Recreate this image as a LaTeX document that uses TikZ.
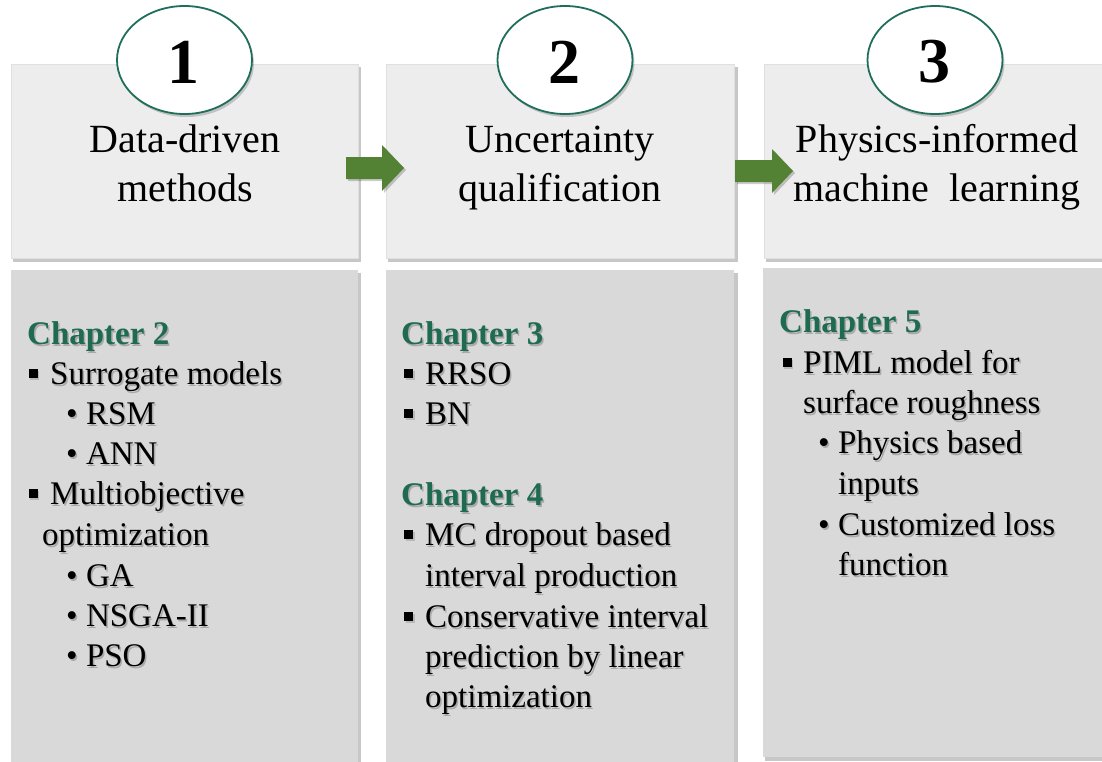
\documentclass[tikz,border=0pt]{standalone}
\usepackage{fontspec}
\setmainfont{Liberation Serif}
\usetikzlibrary{shapes.geometric}
\definecolor{topgray}{HTML}{EDEDED}
\definecolor{botgray}{HTML}{D9D9D9}
\definecolor{chapgreen}{HTML}{1E6B52}
\definecolor{ringgreen}{HTML}{1F6E5A}
\definecolor{arrowgreen}{HTML}{548235}
\tikzset{
  topbox/.style={fill=topgray, draw=black!12, line width=0.6pt, anchor=north west, inner sep=0},
  botbox/.style={fill=botgray, draw=none, anchor=north west, inner sep=0},
  boxshadow/.style={fill=black, opacity=0.22},
  ring/.style={ellipse, draw=ringgreen, line width=1.8pt, fill=white, minimum width=135pt, minimum height=108pt, inner sep=0},
  num/.style={font=\fontsize{64}{64}\selectfont\bfseries},
  title/.style={font=\fontsize{40}{48}\selectfont, anchor=base, inner sep=0},
  chap/.style={font=\fontsize{33}{40}\selectfont\bfseries, text=chapgreen, anchor=base west, inner sep=0},
  item/.style={font=\fontsize{33}{40}\selectfont, anchor=base west, inner sep=0},
  sqbullet/.style={fill=black, minimum size=9pt, inner sep=0},
  flow/.style={fill=arrowgreen},
}
% style, name, x, y, text
\newcommand{\tline}[5]{%
  \node[#1, text=black, opacity=0.22] at ({#3+1.5},{#4+2}) {#5};
  \node[#1] (#2) at (#3,#4) {#5};}
\newcommand{\sqb}[3]{%
  \node[sqbullet, fill=black!40, opacity=0.5] at ({#2+1.5},{#3-11+2}) {};
  \node[sqbullet] (#1) at (#2,{#3-11}) {};}
\begin{document}
\begin{tikzpicture}[x=1pt,y=-1pt]
\useasboundingbox (0,0) rectangle (1102,761);
\fill[white] (0,0) rectangle (1102,761);

% box shadows
\fill[boxshadow] (13,67) rectangle (361,262);
\fill[boxshadow] (388,67) rectangle (738,262);
\fill[boxshadow] (766,67) rectangle (1120,262);
\fill[boxshadow] (13,273) rectangle (361,780);
\fill[boxshadow] (388,273) rectangle (738,780);
\fill[boxshadow] (765,271) rectangle (1120,761);

% top boxes
\node[topbox, minimum width=347pt, minimum height=194pt] (t1) at (11,64) {};
\node[topbox, minimum width=348pt, minimum height=194pt] (t2) at (386,64) {};
\node[topbox, minimum width=350pt, minimum height=194pt] (t3) at (764,64) {};

% bottom boxes
\node[botbox, minimum width=347pt, minimum height=510pt] (b1) at (11,270) {};
\node[botbox, minimum width=348pt, minimum height=510pt] (b2) at (386,270) {};
\node[botbox, minimum width=350pt, minimum height=489pt] (b3) at (763,268) {};

% rings
\fill[black, opacity=0.18] (186.5,63) ellipse (67.5pt and 54pt);
\fill[black, opacity=0.18] (567,63) ellipse (67.5pt and 54pt);
\fill[black, opacity=0.18] (937,63) ellipse (67.5pt and 54pt);
\node[ring] (c1) at (184.5,60) {};
\node[ring] (c2) at (565,60) {};
\node[ring] (c3) at (935,60) {};
\node[num, inner sep=0] (n1) at (183.5,62) {1};
\node[num, inner sep=0] (n2) at (564,62) {2};
\node[num, inner sep=0] (n3) at (934,62) {3};

% arrows
\fill[black, opacity=0.2] (348,159) -- (384,159) -- (384,147) -- (406,170) -- (384,193) -- (384,181) -- (348,181) -- cycle;
\fill[flow] (346,157) -- (382,157) -- (382,145) -- (404,168) -- (382,191) -- (382,179) -- (346,179) -- cycle;
\fill[black, opacity=0.2] (737,162) -- (774,162) -- (774,151) -- (795,173) -- (774,195) -- (774,184) -- (737,184) -- cycle;
\fill[flow] (735,160) -- (772,160) -- (772,149) -- (793,171) -- (772,193) -- (772,182) -- (735,182) -- cycle;

% titles
\node[title] (h1a) at (185,152) {Data-driven};
\node[title] (h1b) at (185,201) {methods};
\node[title] (h2a) at (560,152) {Uncertainty};
\node[title] (h2b) at (560,201) {qualification};
\node[title] (h3a) at (937,152) {Physics-informed};
\node[title] (h3b) at (937,201) {machine\ \ learning};

% column 1
\tline{chap}{ch2}{27}{344}{Chapter 2}
\sqb{q11}{33}{384}
\tline{item}{i11}{50}{384}{Surrogate models}
\tline{item}{i12}{66}{424}{•\ RSM}
\tline{item}{i13}{66}{464}{•\ ANN}
\sqb{q12}{33}{504}
\tline{item}{i14}{50}{504}{Multiobjective}
\tline{item}{i15}{42}{545}{optimization}
\tline{item}{i16}{66}{586}{•\ GA}
\tline{item}{i17}{66}{626}{•\ NSGA-II}
\tline{item}{i18}{66}{666}{•\ PSO}

% column 2
\tline{chap}{ch3}{401}{344}{Chapter 3}
\sqb{q21}{408.5}{384}
\tline{item}{i21}{425}{384}{RRSO}
\sqb{q22}{408.5}{424}
\tline{item}{i22}{425}{424}{BN}
\tline{chap}{ch4}{401}{505}{Chapter 4}
\sqb{q23}{408.5}{545}
\tline{item}{i23}{425}{545}{MC dropout based}
\tline{item}{i24}{425}{586}{interval production}
\sqb{q24}{408.5}{627}
\tline{item}{i25}{425}{627}{Conservative interval}
\tline{item}{i26}{425}{667}{prediction by linear}
\tline{item}{i27}{425}{707}{optimization}

% column 3
\tline{chap}{ch5}{779}{332}{Chapter 5}
\sqb{q31}{787}{373}
\tline{item}{i31}{803}{373}{PIML model for}
\tline{item}{i32}{803}{413}{surface roughness}
\tline{item}{i33}{818}{453}{•\ Physics based}
\tline{item}{i34}{838}{494}{inputs}
\tline{item}{i35}{818}{535}{•\ Customized loss}
\tline{item}{i36}{838}{575}{function}
\end{tikzpicture}
\end{document}
